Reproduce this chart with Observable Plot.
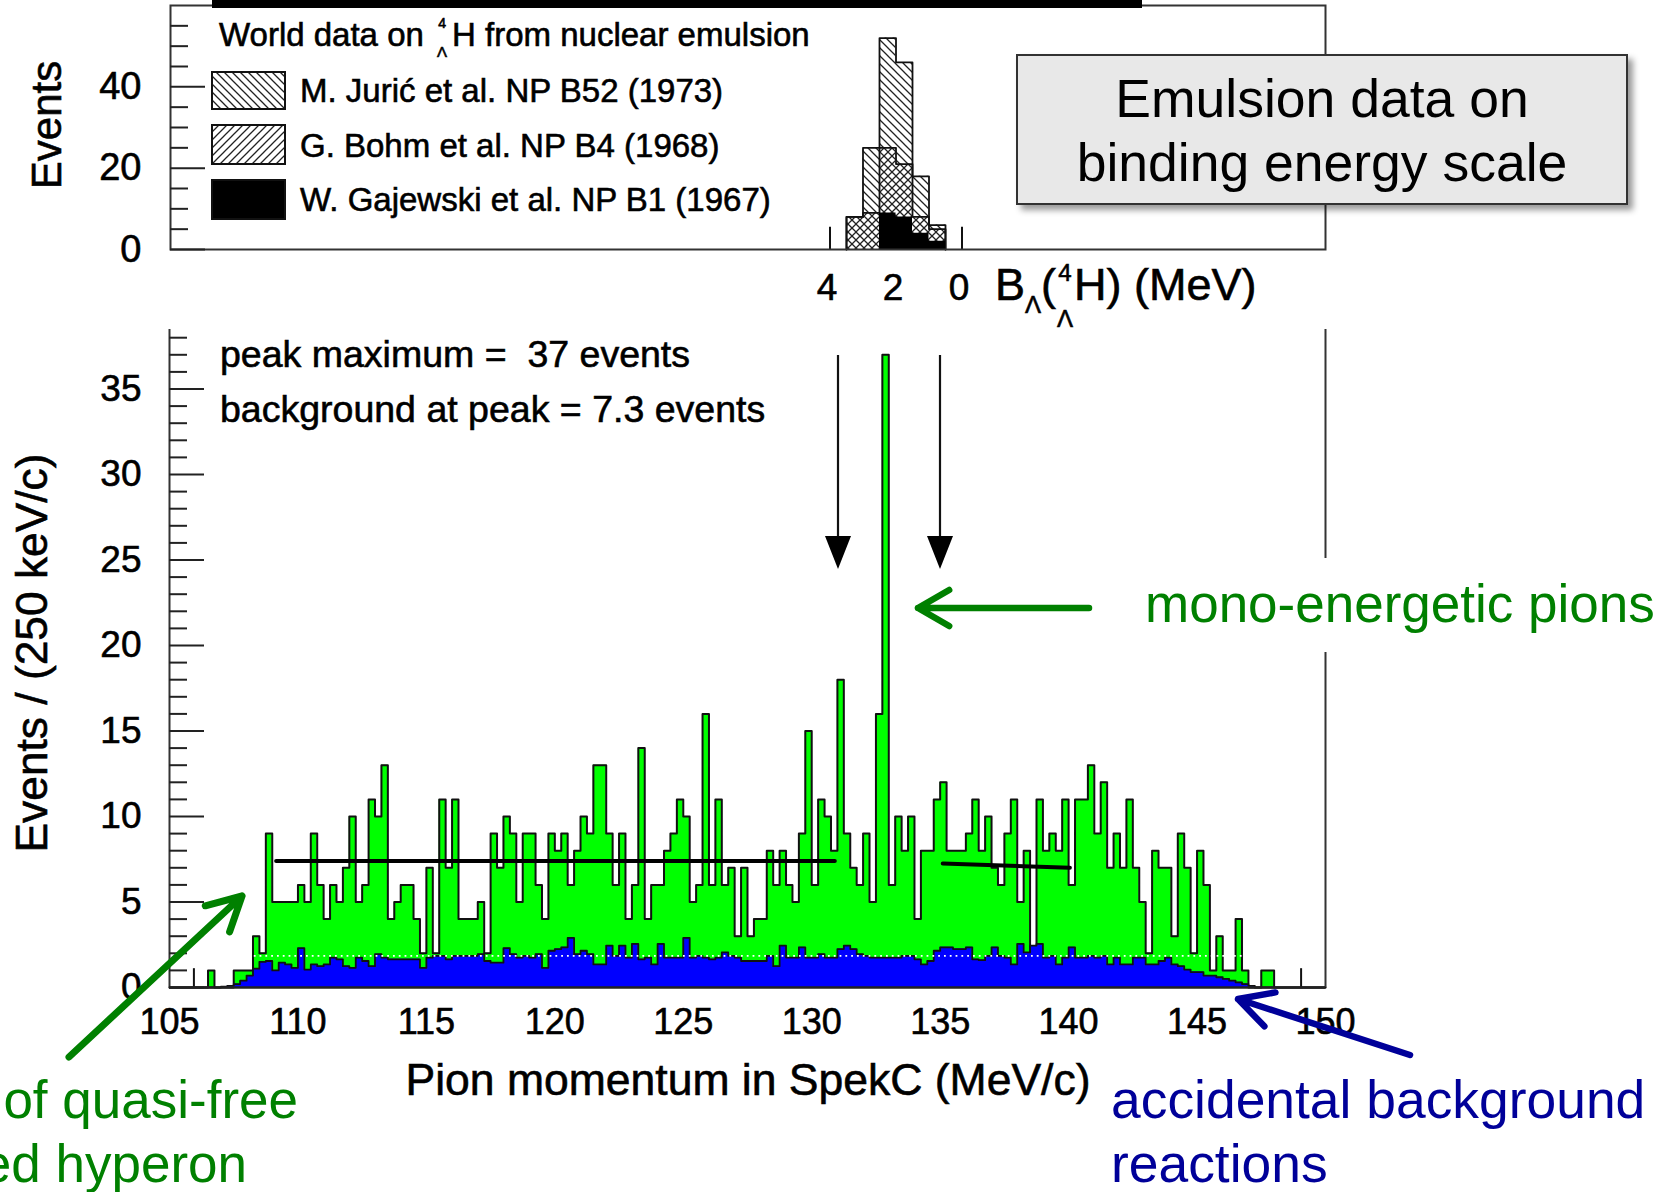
<!DOCTYPE html>
<html>
<head>
<meta charset="utf-8">
<title>Pion momentum in SpekC</title>
<script src="https://cdn.jsdelivr.net/npm/d3@7"></script>
<script src="https://cdn.jsdelivr.net/npm/@observablehq/plot@0.6"></script>
<style>
html, body { margin: 0; padding: 0; background: #ffffff; }
#root { position: relative; width: 1666px; height: 1192px; overflow: hidden; background: #fff; }
#root > svg { position: absolute; left: 0; top: 0; }
#root g[aria-label$="tick label"] text { stroke: #000; stroke-width: 0.6px; }
.rootText { stroke: #000; stroke-width: 0.6px; }
</style>
</head>
<body>
<div id="root"></div>
<script>
// ---------------- data ----------------
const binStart = 105;          // MeV/c
const binWidth = 0.25;         // 250 keV/c
const totalCounts = [
  0,0,0,0,0,0,1,0,0,0,
  1,1,1,3,2,9,5,5,5,5,
  6,5,9,6,4,6,5,7,10,5,
  6,11,10,13,4,5,6,6,4,2,
  7,2,11,7,11,4,4,4,5,2,
  9,7,10,9,5,9,9,6,4,9,
  8,9,6,8,10,9,13,13,9,6,
  9,4,6,14,4,6,6,8,9,11,
  10,5,6,16,6,11,6,7,3,7,
  3,4,4,8,6,8,6,5,9,15,
  6,11,10,8,18,9,7,6,9,5,
  16,37,6,10,8,10,4,8,8,11,
  12,8,8,8,9,11,8,10,7,6,
  9,11,5,8,2,11,8,9,8,11,
  6,11,11,13,9,12,7,9,7,11,
  7,5,2,8,7,7,3,9,7,2,
  8,6,1,3,1,1,4,1,0,0,
  1,1,0,0,0,0,0,0,0,0
];
const backgroundCounts = [
  0,0,0,0,0,0,0,0,0.05,0.1,
  0.2,0.4,0.7,1.1,1.5,1.55,1.0,1.45,1.35,1.15,
  2.3,1.05,1.35,1.25,1.35,1.75,1.65,1.25,1.15,1.75,
  1.55,1.25,1.95,1.75,1.65,1.65,1.65,1.65,1.65,1.15,
  1.75,1.85,1.85,1.65,1.85,1.85,1.85,1.85,1.95,1.55,
  1.45,1.45,2.3,1.95,1.75,1.85,1.75,1.95,1.15,2.15,
  2.25,2.35,2.9,1.95,2.15,1.95,1.35,1.35,2.45,1.85,
  2.45,1.75,2.55,1.65,1.75,1.35,2.55,1.75,1.75,1.75,
  2.9,1.75,1.85,1.75,1.65,1.75,2.05,1.85,1.75,1.55,
  1.55,1.55,1.55,1.85,1.25,2.45,1.75,1.75,2.35,1.75,
  1.75,1.95,1.75,1.75,2.25,2.45,2.25,1.95,1.85,1.75,
  1.75,1.75,1.75,1.75,1.85,1.85,1.65,1.35,1.55,2.15,
  2.35,2.35,2.25,2.25,2.35,1.65,1.6,1.85,2.35,1.85,
  1.75,1.35,2.55,2.05,2.45,2.55,1.75,1.85,1.35,1.75,
  2.35,1.75,1.75,1.85,1.75,1.85,1.35,1.75,1.35,1.35,
  1.75,1.75,1.35,1.35,1.55,1.75,1.35,1.25,1.05,0.9,
  0.9,0.7,0.7,0.6,0.5,0.4,0.3,0.2,0.1,0,
  0,0,0,0,0,0,0,0,0,0
];
const meanBackground = 1.85;
const meanBackgroundRange = [108.3, 146.8];
const fitLeft = [{p: 109.15, n: 7.4}, {p: 130.9, n: 7.4}];
const fitRight = [{p: 135.1, n: 7.25}, {p: 140.05, n: 7.0}];
const windowMarks = [105.95, 149.05];
const windowMarkHeight = 1.1;
const xTickValues = [105, 110, 115, 120, 125, 130, 135, 140, 145, 150];
const yTickValues = [0, 5, 10, 15, 20, 25, 30, 35];
const yMinorTicks = [1,2,3,4,6,7,8,9,11,12,13,14,16,17,18,19,21,22,23,24,26,27,28,29,31,32,33,34,36,37,38];

// inset: world emulsion data, binding energy B_Lambda (MeV), bins of 0.5 MeV
const bindingEdges = [3.5, 3.0, 2.5, 2.0, 1.5, 1.0, 0.5];
const juricCounts = [8, 25, 52, 46, 18, 6];
const bohmCounts = [8, 9, 25, 21, 8, 5];
const gajewskiCounts = [0, 0, 9, 8, 4, 2];
const bindingTicks = [4, 2, 0];
const bindingWindow = [4, 0];
const bindingWindowHeight = 5.5;
const insetYTicks = [0, 20, 40];
const insetYMinor = [5, 10, 15, 25, 30, 35, 45, 50, 55];

// ---------------- layout ----------------
const FONT = '"Liberation Sans", Arial, Helvetica, sans-serif';
const W = 1666, H = 1192;
const mainLeft = 169, mainRight = 1325, mainTop = 329, mainBottom = 987;
const pxPerUnitY = 17.1;
const yTop = (mainBottom - mainTop) / pxPerUnitY;
const pxPerMeV = (mainRight - mainLeft) / 45;
const majorLen = 35, minorLen = 18;

const root = d3.select("#root");

// hatch patterns (shared)
const defsSvg = root.append("svg").attr("width", 1).attr("height", 1).style("position", "absolute");
const defs = defsSvg.append("defs");
function hatch(id, d) {
  const p = defs.append("pattern").attr("id", id).attr("patternUnits", "userSpaceOnUse")
    .attr("width", 8).attr("height", 8);
  p.append("path").attr("d", d).attr("stroke", "#222").attr("stroke-width", 1.3).attr("fill", "none");
}
hatch("hatchBack", "M0,0L8,8M-2,6L2,10M6,-2L10,2");
hatch("hatchFwd", "M0,8L8,0M-2,2L2,-2M6,10L10,6");

// ---------------- main histogram ----------------
const rows = totalCounts.map((v, i) => ({p: binStart + i * binWidth, total: v, bg: backgroundCounts[i]}));
rows.push({p: binStart + totalCounts.length * binWidth, total: 0, bg: 0});

const mainPlot = Plot.plot({
  width: W, height: H,
  marginLeft: mainLeft, marginRight: W - mainRight, marginTop: mainTop, marginBottom: H - mainBottom,
  x: {domain: [105, 150]},
  y: {domain: [0, yTop]},
  style: {background: "transparent", fontFamily: FONT, color: "#000", overflow: "visible"},
  marks: [
    Plot.areaY(rows, {x: "p", y: "total", curve: "step-after", fill: "#00ff00"}),
    Plot.lineY(rows, {x: "p", y: "total", curve: "step-after", stroke: "#111", strokeWidth: 2}),
    Plot.areaY(rows, {x: "p", y: "bg", curve: "step-after", fill: "#0000ff"}),
    Plot.lineY(rows, {x: "p", y: "bg", curve: "step-after", stroke: "#111", strokeWidth: 1.8}),
    Plot.ruleY([meanBackground], {x1: meanBackgroundRange[0], x2: meanBackgroundRange[1], stroke: "#fff", strokeWidth: 1.8, strokeDasharray: "1.8,4"}),
    Plot.line(fitLeft, {x: "p", y: "n", stroke: "#000", strokeWidth: 4}),
    Plot.line(fitRight, {x: "p", y: "n", stroke: "#000", strokeWidth: 4}),
    Plot.ruleX(windowMarks, {y1: 0, y2: windowMarkHeight, stroke: "#111", strokeWidth: 2}),
    Plot.ruleX([105, 150], {y1: 0, y2: yTop, stroke: "#333", strokeWidth: 2}),
    Plot.ruleY([0], {x1: 105, x2: 150, stroke: "#222", strokeWidth: 2.5}),
    Plot.ruleY(yTickValues, {x1: 105, x2: 105 + majorLen / pxPerMeV, stroke: "#222", strokeWidth: 2}),
    Plot.ruleY(yMinorTicks, {x1: 105, x2: 105 + minorLen / pxPerMeV, stroke: "#222", strokeWidth: 2}),
    Plot.axisY({ticks: yTickValues, tickSize: 0, tickPadding: 28, fontSize: 37, label: null}),
    Plot.axisX({ticks: xTickValues, tickSize: 0, tickPadding: 21, fontSize: 36, label: null})
  ]
});
root.node().appendChild(mainPlot);

// ---------------- inset ----------------
const insetLeft = 170, insetRight = 1325, insetTop = 5, insetBottom = 249, insetH = 340;
const b4px = 829.5, b0px = 961.5;
const pxPerB = (b0px - b4px) / 4;
const bLeft = 4 + (b4px - insetLeft) / pxPerB;
const bRight = -(insetRight - b0px) / pxPerB;
function stepRows(counts) {
  const r = [{b: bindingEdges[0], n: 0}];
  counts.forEach((c, i) => r.push({b: bindingEdges[i], n: c}));
  r.push({b: bindingEdges[bindingEdges.length - 1], n: 0});
  return r;
}
const insetPlot = Plot.plot({
  width: W, height: insetH,
  marginLeft: insetLeft, marginRight: W - insetRight, marginTop: insetTop, marginBottom: insetH - insetBottom,
  x: {domain: [bLeft, bRight]},
  y: {domain: [0, 60]},
  style: {background: "transparent", fontFamily: FONT, color: "#000", overflow: "visible"},
  marks: [
    Plot.areaY(stepRows(juricCounts), {x: "b", y: "n", curve: "step-after", fill: "url(#hatchBack)"}),
    Plot.lineY(stepRows(juricCounts), {x: "b", y: "n", curve: "step-after", stroke: "#111", strokeWidth: 1.8}),
    Plot.areaY(stepRows(bohmCounts), {x: "b", y: "n", curve: "step-after", fill: "url(#hatchFwd)"}),
    Plot.lineY(stepRows(bohmCounts), {x: "b", y: "n", curve: "step-after", stroke: "#111", strokeWidth: 1.8}),
    Plot.areaY(stepRows(gajewskiCounts), {x: "b", y: "n", curve: "step-after", fill: "#000"}),
    Plot.ruleX(bindingWindow, {y1: 0, y2: bindingWindowHeight, stroke: "#111", strokeWidth: 2}),
    Plot.frame({stroke: "#333", strokeWidth: 2}),
    Plot.ruleY(insetYTicks, {x1: bLeft, x2: bLeft - majorLen / pxPerB, stroke: "#222", strokeWidth: 2}),
    Plot.ruleY(insetYMinor, {x1: bLeft, x2: bLeft - minorLen / pxPerB, stroke: "#222", strokeWidth: 2}),
    Plot.axisY({ticks: insetYTicks, tickSize: 0, tickPadding: 29, fontSize: 38, label: null}),
    Plot.axisX({ticks: bindingTicks, tickSize: 0, tickPadding: 24, fontSize: 37, label: null, dx: -3})
  ]
});
root.node().appendChild(insetPlot);

// ---------------- annotations ----------------
const ov = root.append("svg").attr("width", W).attr("height", H)
  .style("font-family", FONT).style("overflow", "visible");
const ovDefs = ov.append("defs");
const flt = ovDefs.append("filter").attr("id", "shadow").attr("x", "-10%").attr("y", "-10%").attr("width", "130%").attr("height", "140%");
flt.append("feDropShadow").attr("dx", 5).attr("dy", 5).attr("stdDeviation", 3).attr("flood-color", "#000").attr("flood-opacity", 0.4);

function txt(x, y, s, size, o = {}) {
  return ov.append("text").attr("x", x).attr("y", y).attr("font-size", size)
    .attr("fill", o.fill || "#000").attr("text-anchor", o.anchor || "start")
    .attr("class", o.heavy ? "rootText" : null)
    .attr("transform", o.rotate ? `rotate(${o.rotate},${x},${y})` : null)
    .style("white-space", "pre").text(s);
}
function len(sel) { return sel.node().getComputedTextLength(); }
function openArrow(x1, y1, x2, y2, color, width, head, angleDeg) {
  const a = Math.atan2(y2 - y1, x2 - x1), da = angleDeg * Math.PI / 180;
  const p1 = [x2 - head * Math.cos(a - da), y2 - head * Math.sin(a - da)];
  const p2 = [x2 - head * Math.cos(a + da), y2 - head * Math.sin(a + da)];
  ov.append("path").attr("d", `M${x1},${y1}L${x2},${y2}M${p1[0]},${p1[1]}L${x2},${y2}L${p2[0]},${p2[1]}`)
    .attr("stroke", color).attr("stroke-width", width).attr("fill", "none")
    .attr("stroke-linecap", "round").attr("stroke-linejoin", "round");
}

// black bar on top of inset
ov.append("rect").attr("x", 212).attr("y", 0).attr("width", 930).attr("height", 8).attr("fill", "#000");

// inset legend
{
  const t = txt(219, 46, "World data on ", 33, {heavy: true});
  const x0 = 219 + len(t);
  txt(x0 + 9, 28, "4", 14, {anchor: "middle", heavy: true});
  txt(x0 + 9, 57, "Λ", 15, {anchor: "middle", heavy: true});
  txt(x0 + 19, 46, "H from nuclear emulsion", 33, {heavy: true});
}
ov.append("rect").attr("x", 212).attr("y", 72).attr("width", 73).attr("height", 37).attr("fill", "url(#hatchBack)").attr("stroke", "#111").attr("stroke-width", 2);
ov.append("rect").attr("x", 212).attr("y", 125).attr("width", 73).attr("height", 39).attr("fill", "url(#hatchFwd)").attr("stroke", "#111").attr("stroke-width", 2);
ov.append("rect").attr("x", 212).attr("y", 180).attr("width", 73).attr("height", 39).attr("fill", "#000").attr("stroke", "#111").attr("stroke-width", 2);
txt(300, 102, "M. Jurić et al. NP B52 (1973)", 33, {heavy: true});
txt(300, 157, "G. Bohm et al. NP B4 (1968)", 33, {heavy: true});
txt(300, 211, "W. Gajewski et al. NP B1 (1967)", 33, {heavy: true});

// inset axis titles
txt(61, 125, "Events", 42, {anchor: "middle", rotate: -90, heavy: true});
{
  let x = 995;
  const b = txt(x, 300, "B", 45, {heavy: true}); x += len(b);
  const l = txt(x, 313, "Λ", 24, {heavy: true}); x += len(l);
  const p = txt(x, 300, "(", 45, {heavy: true}); x += len(p);
  txt(x + 9, 281, "4", 24, {anchor: "middle", heavy: true});
  txt(x + 9, 327, "Λ", 24, {anchor: "middle", heavy: true});
  txt(x + 18, 300, "H) (MeV)", 45, {heavy: true});
}

// Emulsion data box
ov.append("rect").attr("x", 1017).attr("y", 55).attr("width", 610).attr("height", 149)
  .attr("fill", "#e8e8e8").attr("stroke", "#333").attr("stroke-width", 2).attr("filter", "url(#shadow)");
txt(1322, 117, "Emulsion data on", 53.5, {anchor: "middle"});
txt(1322, 181, "binding energy scale", 53.5, {anchor: "middle"});

// main plot texts
txt(220, 367, "peak maximum =  37 events", 37.5, {heavy: true});
txt(220, 422, "background at peak = 7.3 events", 37.5, {heavy: true});
txt(47, 653, "Events / (250 keV/c)", 44.3, {anchor: "middle", rotate: -90, heavy: true});
txt(748, 1095, "Pion momentum in SpekC (MeV/c)", 44.5, {anchor: "middle", heavy: true});

// black arrows marking the emulsion binding energy window
[838, 940].forEach(x => {
  ov.append("line").attr("x1", x).attr("x2", x).attr("y1", 355).attr("y2", 545).attr("stroke", "#111").attr("stroke-width", 2.2);
  ov.append("path").attr("d", `M${x - 13},536L${x + 13},536L${x},569Z`).attr("fill", "#000");
});

// mono-energetic pions
ov.append("rect").attr("x", 1138).attr("y", 558).attr("width", 528).attr("height", 94).attr("fill", "#fff");
txt(1145, 622, "mono-energetic pions", 53, {fill: "#008000"});
openArrow(1089, 608, 918, 608, "#008000", 6.5, 36, 30);

// left annotation (quasi-free)
txt(298, 1118, "of quasi-free", 53, {fill: "#008000", anchor: "end"});
txt(247, 1182, "ed hyperon", 53, {fill: "#008000", anchor: "end"});
openArrow(69, 1057, 242, 896, "#008000", 7, 38, 28);

// accidental background
txt(1111, 1118, "accidental background", 53.4, {fill: "#000099"});
txt(1111, 1182, "reactions", 53.4, {fill: "#000099"});
openArrow(1410, 1055, 1238, 999, "#000099", 6.5, 38, 28);
</script>
</body>
</html>
